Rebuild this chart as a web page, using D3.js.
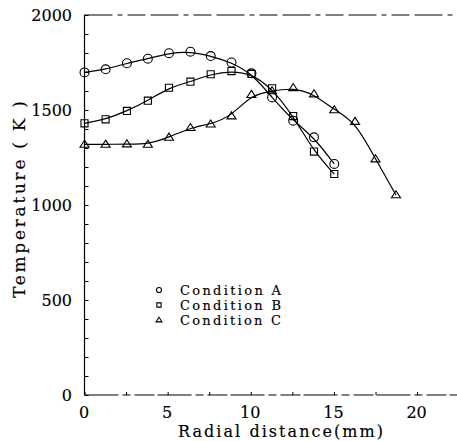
<!DOCTYPE html>
<html><head><meta charset="utf-8">
<script src="https://cdn.jsdelivr.net/npm/d3@7/dist/d3.min.js"></script>
<style>body{margin:0;background:#fff}svg{display:block}text{font-family:"DejaVu Serif",serif;fill:#000;stroke:#000;stroke-width:0.15}</style>
</head><body><svg id="c" width="457" height="441"></svg>
<script>
const xTicks = [0, 5, 10, 15, 20];
const yTicks = [0, 500, 1000, 1500, 2000];
const seriesNames = ["Condition A", "Condition B", "Condition C"];
const xA = [0, 1.27, 2.55, 3.81, 5.08, 6.37, 7.59, 8.84, 10.04, 11.28, 12.55, 13.8, 15.02];
const tA = [1698, 1714, 1746, 1770, 1799, 1807, 1784, 1750, 1693, 1566, 1444, 1356, 1216];
const xB = [0, 1.27, 2.55, 3.81, 5.08, 6.37, 7.59, 8.84, 10.04, 11.28, 12.55, 13.8, 15.02];
const tB = [1430, 1451, 1495, 1549, 1617, 1649, 1688, 1705, 1690, 1614, 1468, 1281, 1163];
const xC = [0, 1.27, 2.55, 3.81, 5.08, 6.37, 7.59, 8.84, 10.04, 11.28, 12.55, 13.8, 15.02, 16.27, 17.5, 18.73];
const tC = [1319, 1319, 1321, 1319, 1356, 1407, 1425, 1468, 1581, 1600, 1617, 1584, 1500, 1439, 1242, 1053];

const svg = d3.select("#c");
const x = d3.scaleLinear().domain([0, 22.4]).range([84.5, 457]);
const y = d3.scaleLinear().domain([0, 2000]).range([395, 15]);

svg.append("line").attr("x1", x(0)).attr("x2", x(0)).attr("y1", y(0)).attr("y2", y(2000))
  .attr("stroke", "#000").attr("stroke-width", 1.2);
svg.append("line").attr("x1", x(0)).attr("x2", 457).attr("y1", y(2000)).attr("y2", y(2000))
  .attr("stroke", "#000").attr("stroke-width", 1.1).attr("stroke-dasharray", "28,5,5,5,18,5");
svg.append("line").attr("x1", x(0)).attr("x2", 457).attr("y1", y(0)).attr("y2", y(0))
  .attr("stroke", "#000").attr("stroke-width", 1.1).attr("stroke-dasharray", "34,4,8,4,20,3");

const yAxis = d3.axisRight(y).tickValues(d3.range(0, 2001, 100)).tickSize(4).tickFormat("");
const gy = svg.append("g").attr("transform", `translate(${x(0)},0)`).call(yAxis);
gy.select(".domain").remove();
gy.selectAll("line").attr("stroke-width", 1);
const xAxis = d3.axisTop(x).tickValues(d3.range(0, 22.5, 2.5)).tickSize(3).tickFormat("");
const gx = svg.append("g").attr("transform", `translate(0,${y(0)})`).call(xAxis);
gx.select(".domain").remove();
gx.selectAll("line").attr("stroke-width", 1);

svg.append("g").selectAll("text").data(yTicks).join("text")
  .attr("x", 72).attr("y", d => y(d)).attr("dy", "0.36em").attr("text-anchor", "end")
  .attr("font-size", 16).text(d => d);
svg.append("g").selectAll("text").data(xTicks).join("text")
  .attr("x", d => x(d) - 0.5).attr("y", 418).attr("text-anchor", "middle")
  .attr("font-size", 16).text(d => d);

svg.append("text").attr("x", 178).attr("y", 437)
  .attr("font-size", 16).attr("textLength", 205).attr("lengthAdjust", "spacing").text("Radial distance(mm)");
svg.append("text").attr("transform", "translate(25,298) rotate(-90)")
  .attr("font-size", 17).attr("textLength", 197).attr("lengthAdjust", "spacing").text("Temperature ( K )");

const flatTri = {draw(ctx, size) {
  const w = Math.sqrt(size * 1.9), h = w * 0.78;
  ctx.moveTo(0, -h * 0.6); ctx.lineTo(w / 2, h * 0.4); ctx.lineTo(-w / 2, h * 0.4); ctx.closePath();
}};

const line = d3.line().x(d => x(d[0])).y(d => y(d[1])).curve(d3.curveBasis);
const series = [
  {xs: xA, ts: tA, sym: d3.symbolCircle, size: 62, lsize: 20},
  {xs: xB, ts: tB, sym: d3.symbolSquare, size: 50, lsize: 18},
  {xs: xC, ts: tC, sym: flatTri, size: 43, lsize: 18}
];
series.forEach(s => {
  const pts = s.xs.map((v, i) => [v, s.ts[i]]);
  svg.append("path").attr("d", line(pts)).attr("fill", "none").attr("stroke", "#000").attr("stroke-width", 1.2);
  svg.append("g").selectAll("path").data(pts).join("path")
    .attr("transform", d => `translate(${x(d[0])},${y(d[1])})`)
    .attr("d", d3.symbol().type(s.sym).size(s.size))
    .attr("fill", "none").attr("stroke", "#000").attr("stroke-width", 1.1);
});

const legY = [290, 305, 320];
series.forEach((s, i) => {
  svg.append("path").attr("transform", `translate(159,${legY[i]})`)
    .attr("d", d3.symbol().type(s.sym).size(s.lsize))
    .attr("fill", "none").attr("stroke", "#000").attr("stroke-width", 1.1);
  svg.append("text").attr("x", 180).attr("y", legY[i]).attr("dy", "0.36em")
    .attr("font-size", 13).attr("textLength", 101).attr("lengthAdjust", "spacing").text(seriesNames[i]);
});
</script></body></html>
